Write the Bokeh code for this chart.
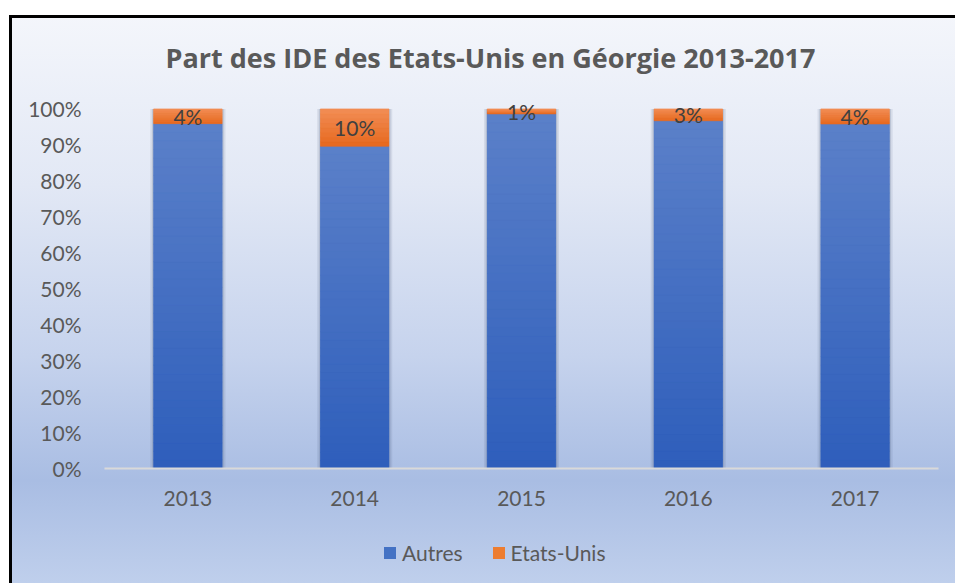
from bokeh.plotting import figure
from bokeh.layouts import column
from bokeh.models import (ColumnDataSource, Range1d, NumeralTickFormatter, Legend,
                          LegendItem, FixedTicker)
from bokeh.embed import file_html
from bokeh.resources import INLINE

# ---- data ----
years = ["2013", "2014", "2015", "2016", "2017"]
etats_unis = [0.041, 0.104, 0.014, 0.033, 0.042]
autres = [round(1 - v, 3) for v in etats_unis]
us_labels = [f"{round(v * 100)}%" for v in etats_unis]
y_ticks = [0.0, 0.1, 0.2, 0.3, 0.4, 0.5, 0.6, 0.7, 0.8, 0.9, 1.0]
series_names = ["Autres", "Etats-Unis"]
title_text = "Part des IDE des Etats-Unis en Géorgie 2013-2017"

# ---- style ----
FONT = "Lato"
FS = "21px"
BLUE = "#4472c4"
ORANGE = "#ed7d31"
BLUE_TOP, BLUE_BOT = "#5b80c9", "#2e5ebb"
OR_TOP, OR_BOT = "#f28d55", "#e6681e"


def _rgb(h):
    h = h.lstrip("#")
    return tuple(int(h[i:i + 2], 16) for i in (0, 2, 4))


def _mix(c_top, c_bot, t):
    a, b = _rgb(c_top), _rgb(c_bot)
    return "#%02x%02x%02x" % tuple(int(round(b[i] + (a[i] - b[i]) * t)) for i in range(3))


def _clear(fig):
    fig.border_fill_alpha = 0
    fig.background_fill_alpha = 0
    fig.outline_line_color = None
    fig.xgrid.visible = False
    fig.ygrid.visible = False


src = ColumnDataSource(dict(year=years, autres=autres, us=etats_unis,
                            total=[a + u for a, u in zip(autres, etats_unis)],
                            mid=[a + u / 2 for a, u in zip(autres, etats_unis)],
                            lbl=us_labels))

# ================= main chart =================
p = figure(x_range=years, y_range=Range1d(0, 1.04), width=946, height=503,
           output_backend="svg", toolbar_location=None, title=title_text,
           min_border_left=95, min_border_right=17, min_border_top=79, min_border_bottom=50)
_clear(p)

p.title.align = "left"
p.title.offset = 61
p.title.standoff = 37
p.title.text_font = "Open Sans"
p.title.text_font_size = "27px"
p.title.text_font_style = "bold"
p.title.text_color = "#595959"

# soft shadows behind the bars
p.vbar(x="year", top="total", bottom=0, width=0.45, source=src,
       fill_color="#4a5878", fill_alpha=0.12, line_color=None)
p.vbar(x="year", top="total", bottom=0, width=0.43, source=src,
       fill_color="#4a5878", fill_alpha=0.18, line_color=None)

# flat base bars
p.vbar(x="year", top="autres", bottom=0, width=0.41, source=src,
       fill_color=BLUE, line_color=None)
p.vbar(x="year", top="total", bottom="autres", width=0.41, source=src,
       fill_color=ORANGE, line_color=None)

# gradient shading drawn as thin slices of each segment
N_B, N_O = 40, 8
gx, gb, gt, gc = [], [], [], []
for yr, a, u in zip(years, autres, etats_unis):
    for k in range(N_B):
        gx.append(yr)
        gb.append(a * k / N_B)
        gt.append(a * (k + 1) / N_B)
        gc.append(_mix(BLUE_TOP, BLUE_BOT, (k + 0.5) / N_B))
    for k in range(N_O):
        gx.append(yr)
        gb.append(a + u * k / N_O)
        gt.append(a + u * (k + 1) / N_O)
        gc.append(_mix(OR_TOP, OR_BOT, (k + 0.5) / N_O))
gsrc = ColumnDataSource(dict(x=gx, b=gb, t=gt, c=gc))
p.vbar(x="x", top="t", bottom="b", width=0.41, source=gsrc,
       fill_color="c", line_color="c", line_width=0.6)

# data labels on the orange segments
p.text(x="year", y="mid", text="lbl", source=src, text_align="center",
       text_baseline="middle", text_font={"value": FONT}, text_font_size=FS,
       text_color="#404040")

# axes
p.yaxis.ticker = FixedTicker(ticks=y_ticks)
p.yaxis.formatter = NumeralTickFormatter(format="0%")
p.yaxis.axis_line_color = None
p.yaxis.major_tick_line_color = None
p.yaxis.minor_tick_line_color = None
p.yaxis.major_tick_out = 0
p.yaxis.major_label_standoff = 23
p.xaxis.axis_line_color = "#d9d9d9"
p.xaxis.axis_line_width = 2
p.xaxis.major_tick_line_color = None
p.xaxis.major_tick_out = 0
p.xaxis.major_label_standoff = 22
for ax in (p.xaxis, p.yaxis):
    ax.major_label_text_font = FONT
    ax.major_label_text_font_size = FS
    ax.major_label_text_color = "#595959"

# ================= legend strip =================
pl = figure(x_range=years, y_range=Range1d(5, 6), width=946, height=65,
            output_backend="svg", toolbar_location=None,
            x_axis_location=None, y_axis_location=None, min_border=0)
_clear(pl)
# same series (outside this strip's visible range), used as legend keys
l_autres = pl.vbar(x="year", top="autres", bottom=0, width=0.41, source=src,
                   fill_color=BLUE, line_color=None)
l_us = pl.vbar(x="year", top="total", bottom="autres", width=0.41, source=src,
               fill_color=ORANGE, line_color=None)
legend = Legend(items=[LegendItem(label=series_names[0], renderers=[l_autres]),
                       LegendItem(label=series_names[1], renderers=[l_us])],
                location=(278, 18), orientation="horizontal",
                border_line_alpha=0, background_fill_alpha=0, padding=0, margin=0,
                glyph_width=15, glyph_height=15, label_height=15, label_standoff=5,
                spacing=28, label_text_font=FONT, label_text_font_size=FS,
                label_text_color="#595959")
pl.add_layout(legend)

layout = column(p, pl, spacing=0)
layout.margin = (15, 0, 0, 9)
layout.styles = {
    "background": "linear-gradient(180deg, #f4f6fb 0%, #e2e8f5 30%, #c6d3ed 60%, #a9bde3 82%, #bfcfec 100%)",
    "box-shadow": "inset 3px 3px 0 0 #000000",
}

open("out.html", "w").write(file_html(layout, INLINE))
